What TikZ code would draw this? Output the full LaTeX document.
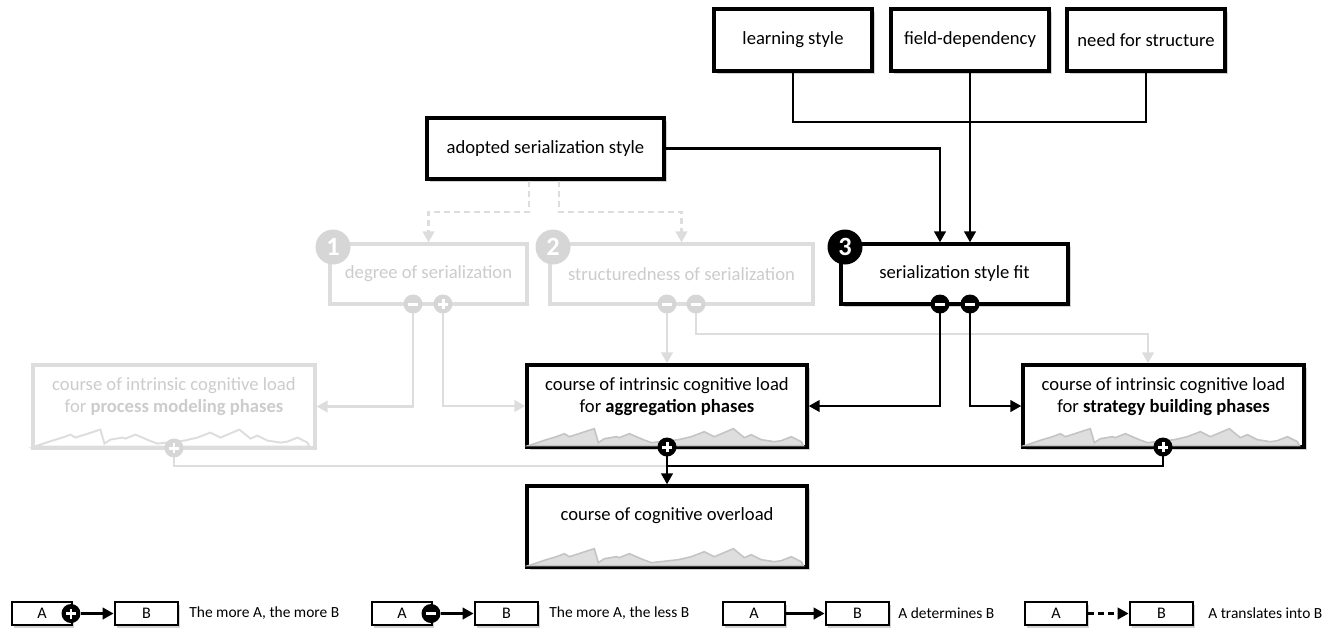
\documentclass[tikz,border=0pt]{standalone}
\usepackage{fontspec}
\setmainfont{Carlito}
\usetikzlibrary{arrows.meta,shadows}
\definecolor{fline}{RGB}{221,221,221}
\definecolor{ftext}{RGB}{204,204,204}
\definecolor{fcirc}{RGB}{214,214,214}
\definecolor{chfill}{RGB}{222,222,222}
\definecolor{chline}{RGB}{196,196,196}
\newcommand{\minichart}[2]{%
  \begin{scope}[shift={(#1.south west)}]
    \draw[#2] (3,-3) -- (6,-4) -- (21,-9) -- (31,-12) -- (39,-15) -- (44,-12) -- (69,-20) -- (73,-6) -- (79,-10) -- (91,-12) -- (94,-11) -- (104,-15) -- (118,-9) -- (126,-6) -- (153,-9) -- (166,-12) -- (179,-17) -- (189,-12) -- (208,-20) -- (219,-11) -- (226,-14) -- (236,-9) -- (249,-7) -- (256,-8) -- (266,-12) -- (276,-7) -- (278,-3) -- cycle;
  \end{scope}}
\tikzset{
  bx/.style 2 args={minimum width=#1*0.02cm, minimum height=#2*0.02cm, inner sep=0pt},
  blk/.style={draw=black, line width=1.9pt, fill=white, drop shadow={shadow xshift=1.5pt, shadow yshift=-1.8pt, opacity=0.25, fill=black!70}},
  fad/.style={draw=fline, line width=1.8pt, fill=white},
  lgbox/.style={draw=black, line width=1.6pt, fill=white, drop shadow={shadow xshift=1.2pt, shadow yshift=-1.5pt, opacity=0.25, fill=black!70}, font=\fontsize{9.2}{10}\selectfont},
  txt/.style={font=\fontsize{10.6}{12.4}\selectfont, align=center, inner sep=0pt},
  ftxt/.style={txt, text=ftext},
  lgtxt/.style={font=\fontsize{8.8}{10}\selectfont, anchor=west, inner sep=0pt},
  conn/.style={line width=1.5pt, draw=black},
  fconn/.style={line width=1.5pt, draw=fline},
  tip/.style={-{Triangle[length=0.22cm,width=0.23cm]}},
  dsh/.style={dash pattern=on 0.12cm off 0.08cm},
  pmc/.style={circle, inner sep=0pt, minimum size=0.38cm, fill=#1},
  plusc/.style={pmc=#1, path picture={\draw[white, line width=1.7pt] ([xshift=-0.1cm]path picture bounding box.center) -- ([xshift=0.1cm]path picture bounding box.center) ([yshift=-0.1cm]path picture bounding box.center) -- ([yshift=0.1cm]path picture bounding box.center);}},
  minusc/.style={pmc=#1, path picture={\draw[white, line width=1.7pt] ([xshift=-0.1cm]path picture bounding box.center) -- ([xshift=0.1cm]path picture bounding box.center);}},
  numc/.style={circle, inner sep=0pt, minimum size=0.7cm, fill=#1, text=white, font=\bfseries\fontsize{15}{15}\selectfont},
}
\begin{document}
\begin{tikzpicture}[x=0.02cm, y=-0.02cm]
\useasboundingbox (0,0) rectangle (1337,630);

% ---------- boxes ----------
\node[blk, bx={158}{62}, txt] (learn) at (793,40) {learning style};
\node[blk, bx={158}{62}, txt] (field) at (970,40) {field-dependency};
\node[blk, bx={158}{62}, txt] (need) at (1146,40) {need for structure};
\node[blk, bx={237}{61}, txt] (adopt) at (545.5,148.5) {adopted serialization style};
\node[blk, bx={227}{60}, txt] (sfit) at (954.5,274) {serialization style fit};

\node[fad, bx={197}{60}, ftxt] (deg) at (428.5,274) {degree of serialization};
\node[fad, bx={263}{60}, ftxt] (struct) at (681.5,274) {structuredness of serialization};

\node[fad, bx={282}{83}] (proc) at (174,406.5) {};
\node[blk, bx={280}{82}] (agg) at (667,406) {};
\node[blk, bx={281}{82}] (strat) at (1163.5,406) {};
\node[blk, bx={280}{81}] (over) at (667,526.5) {};

\minichart{proc}{draw=fline, line width=1.1pt, fill=white}
\minichart{agg}{draw=chline, line width=0.9pt, fill=chfill}
\minichart{strat}{draw=chline, line width=0.9pt, fill=chfill}
\minichart{over}{draw=chline, line width=0.9pt, fill=chfill}

\node[ftxt] (proct) at (174,396.5) {course of intrinsic cognitive load\\for \textbf{process modeling phases}};
\node[txt] (aggt) at (667,396.5) {course of intrinsic cognitive load\\for \textbf{aggregation phases}};
\node[txt] (stratt) at (1163.5,396.5) {course of intrinsic cognitive load\\for \textbf{strategy building phases}};
\node[txt] (overt) at (667,516) {course of cognitive overload};

% ---------- helper coordinates ----------
\coordinate (hr) at (1146,122);
\coordinate (d1) at (529,212);
\coordinate (d2) at (559,212);
\coordinate (st) at (1148,334);
\coordinate (j1) at (667,466);

% ---------- circle positions ----------
\coordinate (dmp) at (413,304);
\coordinate (dpp) at (443,304);
\coordinate (sm1p) at (667,304);
\coordinate (sm2p) at (696,304);
\coordinate (fm1p) at (940,304);
\coordinate (fm2p) at (970,304);
\coordinate (ppp) at (174,448);
\coordinate (app) at (667,447);
\coordinate (spp) at (1163,447);

% ---------- faded connectors ----------
\draw[fconn, dsh, tip] (d1 |- adopt.south) -- (d1) -| (deg.north);
\draw[fconn, dsh, tip] (d2 |- adopt.south) -- (d2) -| (struct.north);
\draw[fconn, tip] (dmp) |- (proc.east);
\draw[fconn, tip] (dpp) |- (agg.west);
\draw[fconn, tip] (sm1p) -- (sm1p |- agg.north);
\draw[fconn, tip] (sm2p) |- (st) -- (st |- strat.north);
\draw[fconn] (ppp) |- (j1);

% ---------- black connectors ----------
\draw[conn] (learn.south) |- (hr) -- (need.south);
\draw[conn, tip] (field.south) -- (field.south |- sfit.north);
\draw[conn, tip] (adopt.east) -| (fm1p |- sfit.north);
\draw[conn, tip] (fm1p) |- (agg.east);
\draw[conn, tip] (fm2p) |- (strat.west);
\draw[conn] (spp) |- (j1);
\draw[conn, tip] (app) -- (over.north);

% ---------- circles ----------
\node[numc=fcirc] (n1) at (333,247) {1};
\node[numc=fcirc] (n2) at (553,247) {2};
\node[numc=black] (n3) at (845,247) {3};
\node[minusc=fcirc] (dm) at (dmp) {};
\node[plusc=fcirc] (dp) at (dpp) {};
\node[minusc=fcirc] (sm1) at (sm1p) {};
\node[minusc=fcirc] (sm2) at (sm2p) {};
\node[minusc=black] (fm1) at (fm1p) {};
\node[minusc=black] (fm2) at (fm2p) {};
\node[plusc=fcirc] (pp) at (ppp) {};
\node[plusc=black] (ap) at (app) {};
\node[plusc=black] (sp) at (spp) {};

% ---------- legend ----------
\node[lgbox, bx={60}{23}] (la1) at (42,613.5) {A};
\node[lgbox, bx={63}{23}] (lb1) at (146.5,613.5) {B};
\node[plusc=black] (lc1) at (71,613.5) {};
\draw[conn, tip] (lc1) -- (lb1.west);
\node[lgtxt] (lt1) at (189,613.5) {The more A, the more B};

\node[lgbox, bx={60}{23}] (la2) at (402,613.5) {A};
\node[lgbox, bx={63}{23}] (lb2) at (506.5,613.5) {B};
\node[minusc=black] (lc2) at (431,613.5) {};
\draw[conn, tip] (lc2) -- (lb2.west);
\node[lgtxt] (lt2) at (549,613.5) {The more A, the less B};

\node[lgbox, bx={62}{23}] (la3) at (754,613.5) {A};
\node[lgbox, bx={63}{23}] (lb3) at (857.5,613.5) {B};
\draw[conn, tip] (la3.east) -- (lb3.west);
\node[lgtxt] (lt3) at (898,613.5) {A determines B};

\node[lgbox, bx={62}{23}] (la4) at (1056,613.5) {A};
\node[lgbox, bx={63}{23}] (lb4) at (1161.5,613.5) {B};
\draw[conn, dsh, tip] (la4.east) -- (lb4.west);
\node[lgtxt] (lt4) at (1208,613.5) {A translates into B};
\end{tikzpicture}
\end{document}
